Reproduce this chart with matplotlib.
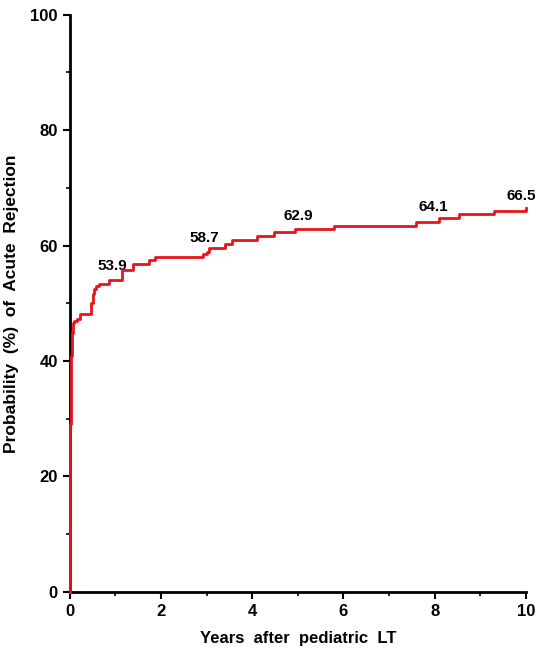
import matplotlib.pyplot as plt
from matplotlib.ticker import MultipleLocator

# cumulative probability of acute rejection (step curve)
years = [0.0, 0.005, 0.01, 0.02, 0.03, 0.05, 0.07, 0.1, 0.15, 0.22, 0.33,
         0.46, 0.5, 0.54, 0.58, 0.64, 0.86, 1.15, 1.38, 1.73, 1.86, 2.92,
         3.0, 3.06, 3.4, 3.55, 4.1, 4.47, 4.94, 5.79, 7.6, 8.1, 8.54, 9.3, 10.0]
prob = [0.0, 19.4, 29.0, 35.6, 40.8, 44.9, 46.6, 46.9, 47.3, 48.2, 48.2,
        50.0, 51.6, 52.5, 53.0, 53.4, 54.1, 55.7, 56.8, 57.5, 58.1, 58.5,
        58.8, 59.6, 60.3, 61.0, 61.6, 62.3, 62.9, 63.4, 64.1, 64.7, 65.4, 66.0, 66.5]

label_x = [0.93, 2.95, 5.0, 7.98, 9.9]
label_y = [56.5, 61.3, 65.2, 66.7, 68.6]
label_txt = ["53.9", "58.7", "62.9", "64.1", "66.5"]

plt.rcParams['font.family'] = ['Liberation Sans', 'DejaVu Sans']

fig = plt.figure(figsize=(5.45, 6.68), dpi=100)
ax = fig.add_axes([0.128, 0.114, 0.837, 0.864])

ax.step(years, prob, where='post', color='#e8141b', lw=2, zorder=4, clip_on=False)

for x, y, t in zip(label_x, label_y, label_txt):
    ax.text(x, y, t, ha='center', va='center', fontsize=11, fontweight='bold')

ax.set_xlim(0, 10)
ax.set_ylim(0, 100)
ax.xaxis.set_major_locator(MultipleLocator(2))
ax.xaxis.set_minor_locator(MultipleLocator(1))
ax.yaxis.set_major_locator(MultipleLocator(20))
ax.yaxis.set_minor_locator(MultipleLocator(10))

for s in ['top', 'right']:
    ax.spines[s].set_visible(False)
for s in ['left', 'bottom']:
    ax.spines[s].set_linewidth(2)
ax.tick_params(which='major', direction='out', length=5, width=1.5, labelsize=12)
ax.tick_params(which='minor', direction='out', length=3, width=1.2)
for lab in ax.get_xticklabels() + ax.get_yticklabels():
    lab.set_fontweight('bold')

ax.set_xlabel("Years  after  pediatric  LT", fontsize=12, fontweight='bold', labelpad=9)
ax.set_ylabel("Probability  (%)  of  Acute  Rejection", fontsize=12.5, fontweight='bold', labelpad=8)

fig.savefig("out.png", dpi=100)
